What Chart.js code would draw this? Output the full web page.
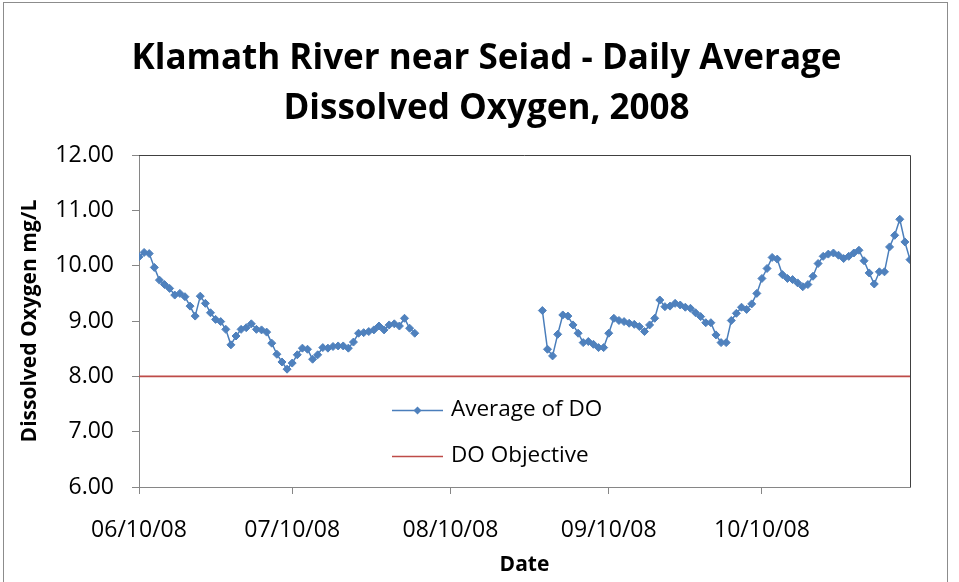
<!DOCTYPE html>
<html>
<head>
<meta charset="utf-8">
<script src="https://cdn.jsdelivr.net/npm/chart.js@4.4.1/dist/chart.umd.min.js"></script>
<style>
    html, body { margin: 0; padding: 0; background: #fff; }
    #wrap { width: 959px; height: 582px; }
</style>
</head>
<body>
<div id="wrap"><canvas id="do-chart" width="959" height="582"></canvas></div>
<script>
// Days are counted from 06/10/08 (day 0); the axis runs to 11/08/08
const lastDay = 151;
const tickDays = [0, 30, 61, 92, 122];
const tickLabels = ['06/10/08', '07/10/08', '08/10/08', '09/10/08', '10/10/08'];

// Daily average DO, first run of readings (06/10 - 08/04)
const seg1Start = 0;
const seg1Values = [10.16, 10.24, 10.22, 9.97, 9.74, 9.66, 9.59, 9.47, 9.50, 9.44,
    9.27, 9.09, 9.45, 9.32, 9.15, 9.03, 8.99, 8.85, 8.57, 8.73,
    8.85, 8.88, 8.95, 8.85, 8.84, 8.80, 8.60, 8.40, 8.26, 8.13,
    8.24, 8.39, 8.51, 8.49, 8.31, 8.39, 8.52, 8.51, 8.54, 8.55,
    8.55, 8.51, 8.62, 8.78, 8.79, 8.81, 8.84, 8.91, 8.84, 8.93,
    8.95, 8.91, 9.05, 8.87, 8.78];

// Second run of readings (08/28 - 11/08)
const seg2Start = 79;
const seg2Values = [9.19, 8.49, 8.37, 8.76, 9.11, 9.09, 8.93, 8.78, 8.61, 8.63,
    8.58, 8.52, 8.52, 8.78, 9.05, 9.01, 8.99, 8.96, 8.94, 8.90,
    8.81, 8.93, 9.05, 9.38, 9.26, 9.27, 9.32, 9.29, 9.25, 9.23,
    9.15, 9.08, 8.97, 8.97, 8.75, 8.61, 8.61, 9.01, 9.14, 9.25,
    9.21, 9.31, 9.50, 9.77, 9.95, 10.15, 10.12, 9.84, 9.77, 9.75,
    9.69, 9.62, 9.66, 9.81, 10.04, 10.17, 10.21, 10.23, 10.19, 10.13,
    10.17, 10.23, 10.28, 10.09, 9.87, 9.67, 9.89, 9.89, 10.34, 10.55,
    10.84, 10.43, 10.11];

const doObjective = 8.00;

const FONT = "'Open Sans', 'DejaVu Sans', sans-serif";
const BLUE = '#4A7EBB';
const RED = '#BE4B48';

// Build the point list, with a null point to break the line across the gap
const avgPoints = seg1Values.map((v, i) => ({ x: seg1Start + i, y: v }));
avgPoints.push({ x: (seg1Start + seg1Values.length + seg2Start) / 2, y: null });
seg2Values.forEach((v, i) => avgPoints.push({ x: seg2Start + i, y: v }));

const objectivePoints = [{ x: 0, y: doObjective }, { x: lastDay, y: doObjective }];

// Outer frame, plot border and the legend inside the plot
const framePlugin = {
    id: 'frame',
    beforeDraw(chart) {
        const c = chart.ctx;
        c.save();
        c.fillStyle = '#fff';
        c.fillRect(0, 0, chart.width, chart.height);
        c.strokeStyle = '#8c8c8c';
        c.lineWidth = 1;
        c.strokeRect(3.5, 2.5, 944, 620);
        c.restore();
    },
    afterDatasetsDraw(chart) {
        const c = chart.ctx;
        const a = chart.chartArea;
        c.save();
        c.strokeStyle = '#404040';
        c.lineWidth = 1;
        c.beginPath();
        c.moveTo(a.left, Math.round(a.top) + 0.5);
        c.lineTo(Math.round(a.right) + 0.5, Math.round(a.top) + 0.5);
        c.lineTo(Math.round(a.right) + 0.5, a.bottom);
        c.stroke();

        // legend
        const items = chart.data.datasets;
        const lx = 392, lw = 51, tx = 451;
        const rows = [410, 456];
        c.font = '22.5px ' + FONT;
        c.textBaseline = 'middle';
        c.textAlign = 'left';
        items.forEach((ds, i) => {
            const y = rows[i];
            c.strokeStyle = ds.borderColor;
            c.lineWidth = 1.5;
            c.beginPath();
            c.moveTo(lx, y + 0.5);
            c.lineTo(lx + lw, y + 0.5);
            c.stroke();
            if (ds.pointRadius > 0) {
                const cx = lx + lw / 2, r = 4;
                c.fillStyle = ds.backgroundColor;
                c.beginPath();
                c.moveTo(cx, y + 0.5 - r);
                c.lineTo(cx + r, y + 0.5);
                c.lineTo(cx, y + 0.5 + r);
                c.lineTo(cx - r, y + 0.5);
                c.closePath();
                c.fill();
            }
            c.fillStyle = '#000';
            c.fillText(ds.label, tx, y);
        });
        c.restore();
    }
};

const ctx = document.getElementById('do-chart').getContext('2d');
const doChart = new Chart(ctx, {
    type: 'line',
    data: {
        datasets: [{
            label: 'Average of DO',
            data: avgPoints,
            borderColor: BLUE,
            backgroundColor: '#4F81BD',
            borderWidth: 1.5,
            pointStyle: 'rectRot',
            pointRadius: 4,
            pointBorderWidth: 1,
            pointBorderColor: '#4F81BD',
            tension: 0,
            spanGaps: false
        }, {
            label: 'DO Objective',
            data: objectivePoints,
            borderColor: RED,
            backgroundColor: RED,
            borderWidth: 1.75,
            pointRadius: 0,
            tension: 0
        }]
    },
    options: {
        responsive: false,
        animation: false,
        layout: { padding: { left: 14, right: 0, top: 0, bottom: 0 } },
        plugins: {
            legend: { display: false },
            tooltip: { enabled: false },
            title: {
                display: true,
                text: ['Klamath River near Seiad - Daily Average', 'Dissolved Oxygen, 2008'],
                color: '#000',
                font: { family: FONT, size: 35, weight: 'bold', lineHeight: 1.43 },
                padding: { top: 34, bottom: 21 }
            }
        },
        scales: {
            x: {
                type: 'linear',
                min: 0,
                max: lastDay,
                afterBuildTicks: axis => { axis.ticks = tickDays.map(v => ({ value: v })); },
                afterFit: scale => { scale.height = 95; },
                ticks: {
                    autoSkip: false,
                    maxRotation: 0,
                    padding: 23,
                    color: '#000',
                    font: { family: FONT, size: 23 },
                    callback: v => tickLabels[tickDays.indexOf(v)]
                },
                grid: { drawOnChartArea: false, tickLength: 7, color: '#868686' },
                border: { color: '#868686' },
                title: {
                    display: true,
                    text: 'Date',
                    color: '#000',
                    font: { family: FONT, size: 21, weight: 'bold' },
                    padding: { top: 0, bottom: 4 }
                }
            },
            y: {
                min: 6,
                max: 12,
                afterFit: scale => { scale.width = 139 - 14; },
                ticks: {
                    stepSize: 1,
                    padding: 18,
                    color: '#000',
                    font: { family: FONT, size: 23 },
                    callback: v => v.toFixed(2)
                },
                grid: { drawOnChartArea: false, tickLength: 7, color: '#868686' },
                border: { color: '#868686' },
                title: {
                    display: true,
                    text: 'Dissolved Oxygen mg/L',
                    color: '#000',
                    font: { family: FONT, size: 21, weight: 'bold' },
                    padding: { top: 3, bottom: 0 }
                }
            },
            yRight: {
                position: 'right',
                display: true,
                afterFit: scale => { scale.width = 959 - 910; },
                ticks: { display: false },
                grid: { display: false },
                border: { display: false }
            }
        }
    },
    plugins: [framePlugin]
});
</script>
</body>
</html>
